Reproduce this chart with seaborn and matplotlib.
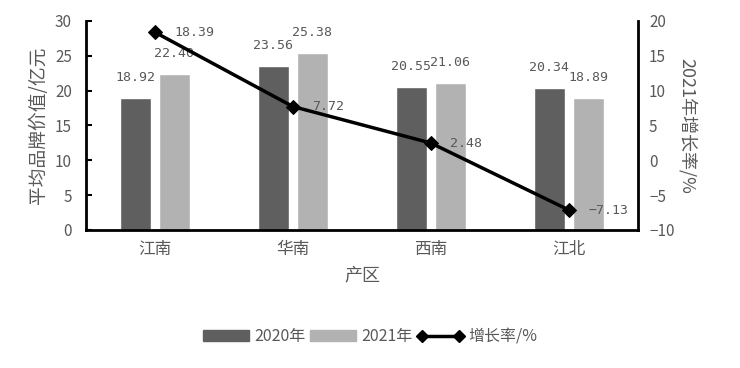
import pandas as pd
import matplotlib
matplotlib.use('Agg')
import matplotlib.pyplot as plt
from matplotlib.lines import Line2D
import seaborn as sns

# data
regions = ['江南', '华南', '西南', '江北']
value_2020 = [18.92, 23.56, 20.55, 20.34]
value_2021 = [22.40, 25.38, 21.06, 18.89]
growth = [18.39, 7.72, 2.48, -7.13]
years = ['2020年', '2021年']

sns.set_theme(style='white')
plt.rcParams['font.family'] = ['Noto Sans CJK SC', 'DejaVu Sans']
plt.rcParams['axes.unicode_minus'] = True

grey = '#595959'
c2020 = '#5f5f5f'
c2021 = '#b2b2b2'

df = pd.DataFrame({
    '产区': regions * 2,
    '年份': [years[0]] * 4 + [years[1]] * 4,
    '价值': value_2020 + value_2021,
})

fig = plt.figure(figsize=(7.4, 3.68), dpi=100)
ax = fig.add_axes([0.116, 0.375, 0.746, 0.568])

sns.barplot(data=df, x='产区', y='价值', hue='年份', order=regions, hue_order=years,
            palette=[c2020, c2021], width=0.565, gap=0.206,
            saturation=1, ax=ax, legend=False)

# bar labels
for cont in ax.containers:
    ax.bar_label(cont, fmt='%.2f', padding=10, fontsize=9.5, color=grey,
                 family=['DejaVu Sans Mono'])

ax.set_ylim(0, 30)
ax.set_yticks(range(0, 31, 5))
ax.set_xlim(-0.5, 3.5)
ax.set_xlabel('产区', fontsize=13, color=grey, labelpad=6)
ax.set_ylabel('平均品牌价值/亿元', fontsize=13.5, color=grey, labelpad=4)
ax.tick_params(axis='y', direction='in', length=4, width=1.5, labelsize=11,
               labelcolor=grey, color='black', left=True, pad=10)
ax.tick_params(axis='x', length=0, labelsize=12, labelcolor=grey, pad=8)
for s in ['left', 'bottom', 'right']:
    ax.spines[s].set_color('black')
    ax.spines[s].set_linewidth(2)
ax.spines['top'].set_visible(False)

ax2 = ax.twinx()
sns.lineplot(x=regions, y=growth, ax=ax2, color='black', linewidth=2.5,
             marker='D', markersize=7, markeredgecolor='black', sort=False)
ax2.set_ylim(-10, 20)
ax2.set_yticks(range(-10, 21, 5))
ax2.set_xlim(-0.5, 3.5)
ax2.set_ylabel('2021年增长率/%', fontsize=13, color=grey, rotation=270, labelpad=16)
ax2.tick_params(axis='y', length=0, labelsize=11, labelcolor=grey, pad=8)
for s in ax2.spines.values():
    s.set_visible(False)

for i, g in enumerate(growth):
    ax2.annotate(f'{g:.2f}'.replace('-', '\u2212'), (i, g), xytext=(14, 0),
                 textcoords='offset points', va='center', ha='left',
                 fontsize=9.5, color=grey, family=['DejaVu Sans Mono'])

handles = [
    plt.Rectangle((0, 0), 1, 1, color=c2020),
    plt.Rectangle((0, 0), 1, 1, color=c2021),
    Line2D([0], [0], color='black', linewidth=2.5, marker='D', markersize=6),
]
fig.legend(handles, years + ['增长率/%'], loc='center', bbox_to_anchor=(0.5, 0.085),
           ncol=3, frameon=False, fontsize=11.5, labelcolor=grey, numpoints=2,
           handlelength=2.9, handletextpad=0.3, columnspacing=0.3,
           handleheight=0.65)

fig.savefig('out.png', dpi=100)
